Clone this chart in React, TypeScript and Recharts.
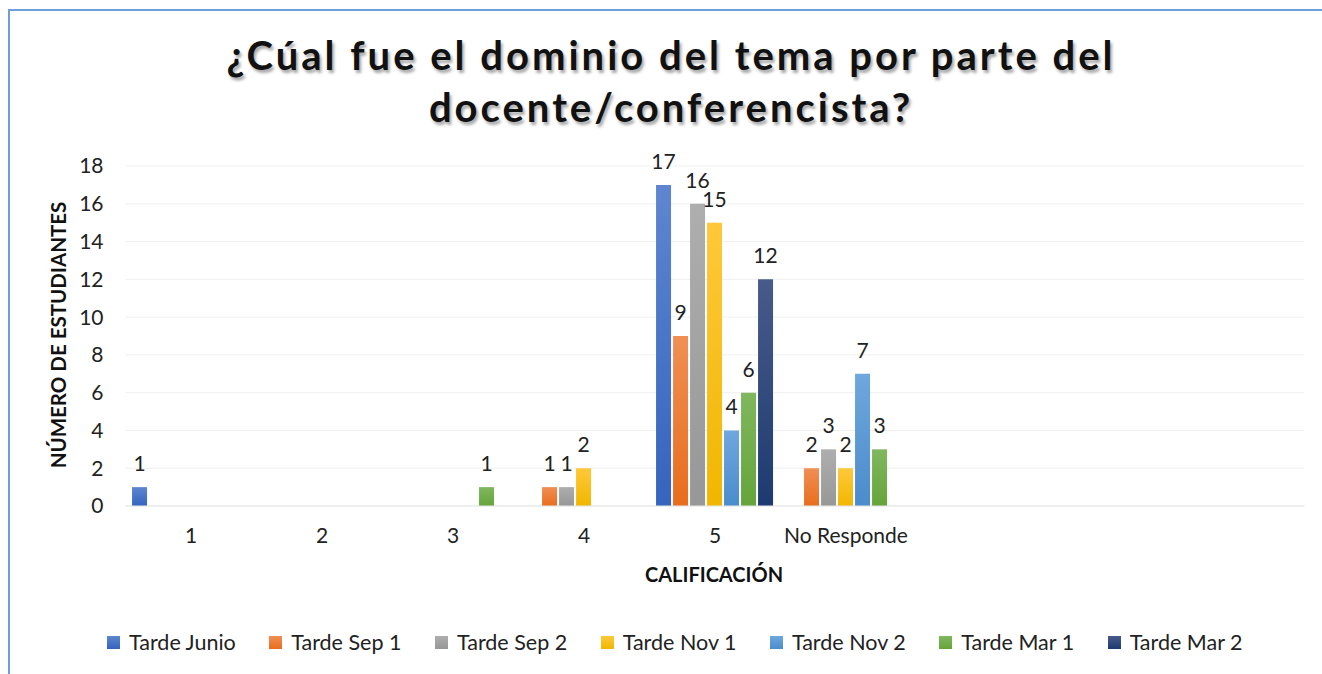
import {
  BarChart,
  Bar,
  XAxis,
  YAxis,
  CartesianGrid,
  LabelList,
} from 'recharts';

const categories = ['1', '2', '3', '4', '5', 'No Responde', '', ' ', '  '];

const tardeJunio = [1, 0, 0, 0, 17, 0];
const tardeSep1 = [0, 0, 0, 1, 9, 2];
const tardeSep2 = [0, 0, 0, 1, 16, 3];
const tardeNov1 = [0, 0, 0, 2, 15, 2];
const tardeNov2 = [0, 0, 0, 0, 4, 7];
const tardeMar1 = [0, 0, 1, 0, 6, 3];
const tardeMar2 = [0, 0, 0, 0, 12, 0];

const yTicks = [0, 2, 4, 6, 8, 10, 12, 14, 16, 18];

const series = [
  { key: 'junio', name: 'Tarde Junio', values: tardeJunio, top: '#5E86D0', bottom: '#3564BE' },
  { key: 'sep1', name: 'Tarde Sep 1', values: tardeSep1, top: '#F08F55', bottom: '#E86D1C' },
  { key: 'sep2', name: 'Tarde Sep 2', values: tardeSep2, top: '#AEAEAE', bottom: '#979797' },
  { key: 'nov1', name: 'Tarde Nov 1', values: tardeNov1, top: '#FFC83A', bottom: '#F0B700' },
  { key: 'nov2', name: 'Tarde Nov 2', values: tardeNov2, top: '#6FA7DD', bottom: '#4A8CCC' },
  { key: 'mar1', name: 'Tarde Mar 1', values: tardeMar1, top: '#80B75E', bottom: '#65A43A' },
  { key: 'mar2', name: 'Tarde Mar 2', values: tardeMar2, top: '#485B8A', bottom: '#1D3A70' },
];

const data = categories.map((cat, i) => {
  const row: Record<string, string | number | null> = { cat };
  series.forEach((s) => {
    row[s.key] = i < s.values.length ? s.values[i] : null;
  });
  return row;
});

const font = 'Lato, "Open Sans", sans-serif';

function LegendContent() {
  return (
    <div style={{ display: 'flex', fontFamily: font, fontSize: 21.5, color: '#222' }}>
      {series.map((s) => (
        <div key={s.key} style={{ display: 'flex', alignItems: 'center', marginRight: 33.5 }}>
          <span
            style={{
              display: 'inline-block',
              width: 13,
              height: 13,
              background: `linear-gradient(${s.top}, ${s.bottom})`,
              marginRight: 9,
            }}
          />
          <span>{s.name}</span>
        </div>
      ))}
    </div>
  );
}

const renderLabel = (props: any) => {
  const { x, y, width, value } = props;
  if (!value) return null;
  return (
    <text
      x={x + width / 2}
      y={y - 16}
      textAnchor="middle"
      fontFamily={font}
      fontSize={21}
      fill="#222"
    >
      {value}
    </text>
  );
};

export default function App() {
  return (
    <div style={{ position: 'absolute', left: 0, top: 0, width: 1322, height: 674, background: '#fff', overflow: 'hidden' }}>
      <div
        style={{
          position: 'absolute',
          left: 8,
          top: 9,
          width: 1400,
          height: 700,
          borderLeft: '2px solid #6E9FDA',
          borderTop: '2px solid #6E9FDA',
        }}
      />
      <div
        style={{
          position: 'absolute',
          left: 0,
          top: 29,
          width: 1342,
          textAlign: 'center',
          fontFamily: font,
          fontWeight: 700,
          fontSize: 40,
          letterSpacing: 3,
          lineHeight: '52px',
          color: '#111',
          textShadow: '2px 3px 3px rgba(0,0,0,0.35)',
        }}
      >
        ¿Cúal fue el dominio del tema por parte del
        <br />
        docente/conferencista?
      </div>
      <div
        style={{
          position: 'absolute',
          left: 58,
          top: 335,
          transform: 'translate(-50%, -50%) rotate(-90deg)',
          whiteSpace: 'nowrap',
          fontFamily: font,
          fontWeight: 700,
          fontSize: 20.5,
          color: '#111',
        }}
      >
        NÚMERO DE ESTUDIANTES
      </div>
      <div
        style={{
          position: 'absolute',
          left: 714,
          top: 574,
          transform: 'translate(-50%, -50%)',
          whiteSpace: 'nowrap',
          fontFamily: font,
          fontWeight: 700,
          fontSize: 20,
          color: '#111',
        }}
      >
        CALIFICACIÓN
      </div>
      <div style={{ position: 'absolute', left: 107, top: 629 }}>
        <LegendContent />
      </div>
      <div style={{ position: 'absolute', left: 0, top: 0 }}>
        <BarChart
          width={1322}
          height={674}
          data={data}
          margin={{ top: 166, right: 17.5, bottom: 138, left: 60 }}
          barCategoryGap="5%"
          barGap={2}
        >
          <defs>
            {series.map((s) => (
              <linearGradient key={s.key} id={`grad-${s.key}`} x1="0" y1="0" x2="0" y2="1">
                <stop offset="0%" stopColor={s.top} />
                <stop offset="100%" stopColor={s.bottom} />
              </linearGradient>
            ))}
          </defs>
          <CartesianGrid vertical={false} stroke="#F0F0F0" />
          <XAxis
            dataKey="cat"
            axisLine={{ stroke: '#E6E6E6' }}
            tickLine={false}
            tickMargin={16}
            tick={{ fontFamily: font, fontSize: 21, fill: '#222' }}
            interval={0}
          />
          <YAxis
            width={65.5}
            domain={[0, 18]}
            ticks={yTicks}
            axisLine={false}
            tickLine={false}
            tickMargin={16}
            tick={{ fontFamily: font, fontSize: 21, fill: '#222' }}
          />
          {series.map((s) => (
            <Bar
              key={s.key}
              dataKey={s.key}
              name={s.name}
              fill={`url(#grad-${s.key})`}
              isAnimationActive={false}
            >
              <LabelList dataKey={s.key} content={renderLabel} />
            </Bar>
          ))}
        </BarChart>
      </div>
    </div>
  );
}
